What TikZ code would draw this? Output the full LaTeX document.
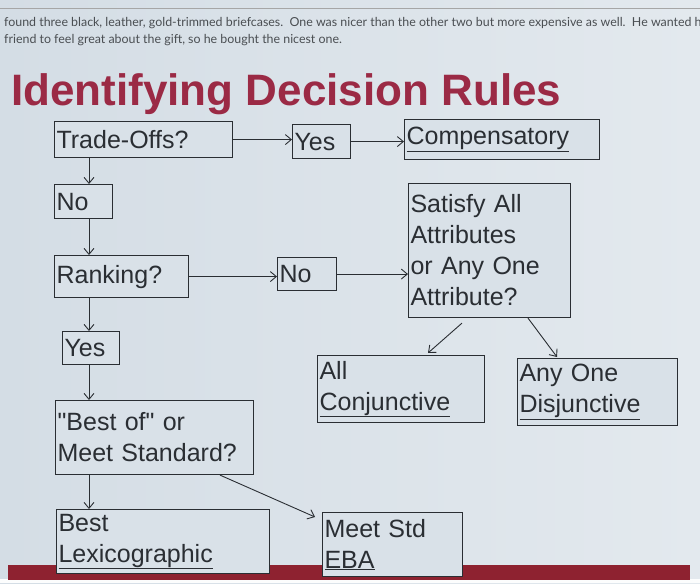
\documentclass[tikz,border=0pt]{standalone}
\usepackage{fontspec}
\setmainfont{Liberation Sans}
\newfontfamily\qfont{Liberation Sans}[Ligatures=TeXOff]
\newfontfamily\latofont{Lato}
\usetikzlibrary{arrows.meta}
\definecolor{bgL}{HTML}{D4DDE5}
\definecolor{bgR}{HTML}{E3E9EE}
\definecolor{boxfill}{HTML}{D9E1E8}
\definecolor{titlered}{HTML}{9B2A45}
\definecolor{bandred}{HTML}{8E2230}
\definecolor{ink}{HTML}{2A2E33}
\definecolor{greytext}{HTML}{4A4E52}
\newcommand{\ul}[1]{\underline{#1}}
\tikzset{
  box/.style={draw=ink, fill=boxfill, line width=1.1pt, anchor=north west, inner xsep=2pt, inner ysep=0pt,
    align=left, text=ink, font=\fontsize{25}{31}\selectfont},
  arr/.style={draw=ink, line width=0.9pt, -{Straight Barb[length=6pt,width=10pt]}}
}
\begin{document}
\begin{tikzpicture}[x=1pt,y=-1pt]
\useasboundingbox (0,0) rectangle (700,583);
\shade[left color=bgL, right color=bgR] (0,0) rectangle (700,583);
\fill[white!90!bgR] (0,579) rectangle (700,583);
\fill[bandred] (8,565) rectangle (690,580);
\draw[gray!70, line width=0.8pt] (0,8) -- (700,8);
\begin{scope}
\clip (0,0) rectangle (700,583);
\node[anchor=base west, inner sep=0pt, text=greytext, font=\latofont\fontsize{12.4}{15}\selectfont] (l1) at (4,27) {found three black, leather, gold-trimmed briefcases.\ \ One was nicer than the other two but more expensive as well.\ \ He wanted h};
\end{scope}
\node[anchor=base west, inner sep=0pt, text=greytext, font=\latofont\fontsize{12.4}{15}\selectfont] (l2) at (4,44) {friend to feel great about the gift, so he bought the nicest one.};
\node[anchor=base west, inner sep=0pt, text=titlered, font=\fontsize{44}{50}\selectfont\bfseries] (title) at (11,106) {Identifying Decision Rules};

\node[box, text width=174pt, minimum height=36pt] (to) at (54,121) {Trade-Offs?};
\node[box, text width=54pt, minimum height=34pt] (yes1) at (292,124) {Yes};
\node[box, text width=191pt, minimum height=40pt] (comp) at (404,119) {\ul{Compensatory}};
\node[box, text width=54pt, minimum height=34pt] (no1) at (54,184) {No};
\node[box, text width=158pt, minimum height=134pt] (sat) at (408,183) {Satisfy All\\Attributes\\or Any One\\Attribute?};
\node[box, text width=130pt, minimum height=42pt] (rank) at (54,255) {Ranking?};
\node[box, text width=55pt, minimum height=33pt] (no2) at (277,257) {No};
\node[box, text width=53pt, minimum height=33pt] (yes2) at (62,331) {Yes};
\node[box, text width=194pt, minimum height=74pt] (best) at (55,400) {{\qfont"}Best of{\qfont"} or\\Meet Standard?};
\node[box, text width=163pt, minimum height=67pt] (conj) at (317,355) {All\\\ul{Conjunctive}};
\node[box, text width=156pt, minimum height=67pt] (dis) at (517,358) {Any One\\\ul{Disjunctive}};
\node[box, text width=209pt, minimum height=64pt] (lex) at (56,509) {Best\\\ul{Lexicographic}};
\node[box, text width=136pt, minimum height=64pt] (meet) at (322,512) {Meet Std\\\ul{EBA}};

\draw[arr] (to.east) -- (yes1.west |- to.east);
\draw[arr] (yes1.east) -- (comp.west |- yes1.east);
\draw[arr] ([xshift=35pt]to.south west) -- ([xshift=35pt]to.south west |- no1.north);
\draw[arr] ([xshift=35pt]no1.south west) -- ([xshift=35pt]no1.south west |- rank.north);
\draw[arr] (rank.east) -- (no2.west |- rank.east);
\draw[arr] (no2.east) -- (sat.west |- no2.east);
\draw[arr] ([xshift=35pt]rank.south west) -- ([xshift=35pt]rank.south west |- yes2.north);
\draw[arr] ([xshift=27pt]yes2.south west) -- ([xshift=27pt]yes2.south west |- best.north);
\draw[arr] ([xshift=34pt]best.south west) -- ([xshift=34pt]best.south west |- lex.north);
\draw[arr] ([xshift=165pt]best.south west) -- ([xshift=-7pt,yshift=-5pt]meet.north west);
\draw[arr] ([xshift=54pt,yshift=-5pt]sat.south west) -- ([xshift=111pt,yshift=2pt]conj.north west);
\draw[arr] ([xshift=120pt]sat.south west) -- ([xshift=40pt,yshift=1pt]dis.north west);
\end{tikzpicture}
\end{document}
